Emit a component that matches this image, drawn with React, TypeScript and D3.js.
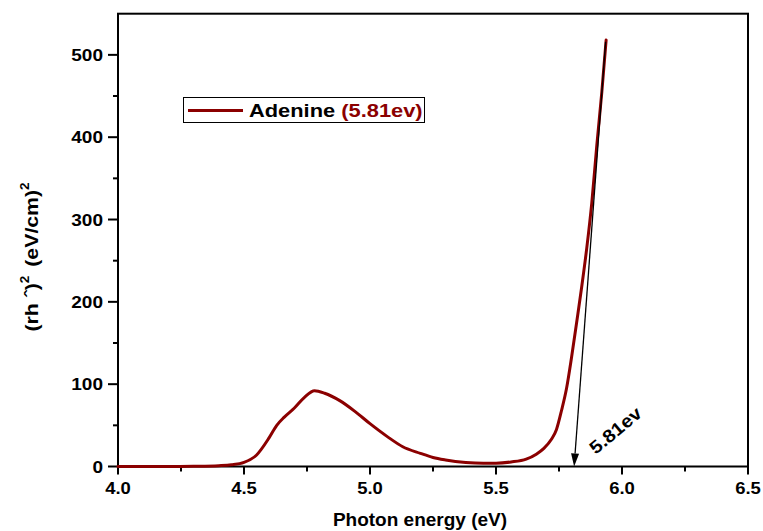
import React from "react";
import * as d3 from "d3";

const energy = [4.0, 4.1, 4.2, 4.3, 4.4, 4.45, 4.5, 4.55, 4.6, 4.63, 4.66, 4.7, 4.74, 4.78, 4.82, 4.88, 4.94, 5.0, 5.07, 5.13, 5.2, 5.25, 5.3, 5.38, 5.45, 5.5, 5.56, 5.62, 5.66, 5.69, 5.72, 5.74, 5.76, 5.78, 5.8, 5.82, 5.84, 5.86, 5.88, 5.9, 5.92, 5.937];
const adenine = [0, 0, 0, 0.3, 1, 2, 5, 14, 35, 50, 60, 71, 84, 92, 89, 80, 67, 52, 36, 24, 16, 11, 8, 5, 4, 4, 5.5, 9, 15, 22, 33, 45, 68, 95, 133, 175, 218, 265, 320, 390, 455, 518];

const xMajorTicks = [4.0, 4.5, 5.0, 5.5, 6.0, 6.5];
const xMinorTicks = [4.25, 4.75, 5.25, 5.75, 6.25];
const yMajorTicks = [0, 100, 200, 300, 400, 500];
const yMinorTicks = [50, 150, 250, 350, 450];

const arrowFrom = [5.935, 516];
const arrowTo = [5.81, 0];
const gapLabel = "5.81ev";
const gapLabelPos = [5.99, 38];

const FONT = "Arial, 'Liberation Sans', sans-serif";
const RED = "#8B0000";
const SX = 1.12;

export default function App() {
  const W = 763, H = 531;
  const x = d3.scaleLinear().domain([4.0, 6.5]).range([118, 748]);
  const y = d3.scaleLinear().domain([0, 550]).range([466.5, 13.7]);
  const pts = energy.map((e, i) => [e, adenine[i]] as [number, number]);
  const line = d3.line<[number, number]>().x(d => x(d[0])).y(d => y(d[1])).curve(d3.curveMonotoneX);

  const ax1 = x(arrowFrom[0]), ay1 = y(arrowFrom[1]);
  const ax2 = x(arrowTo[0]), ay2 = y(arrowTo[1]);
  const ang = Math.atan2(ay2 - ay1, ax2 - ax1);
  const hl = 13, hw = 4;
  const bx = ax2 - hl * Math.cos(ang), by = ay2 - hl * Math.sin(ang);
  const px = -Math.sin(ang) * hw, py = Math.cos(ang) * hw;
  const head = `M${ax2},${ay2}L${bx + px},${by + py}L${bx - px},${by - py}Z`;

  return (
    <svg width={W} height={H} style={{ position: "absolute", left: 0, top: 0, background: "#fff" }} fontFamily={FONT}>
      <rect x={0} y={0} width={W} height={H} fill="#fff" />
      {/* frame */}
      <rect x={x(4.0)} y={y(550)} width={x(6.5) - x(4.0)} height={y(0) - y(550)} fill="none" stroke="#000" strokeWidth={2} />
      {/* x ticks */}
      {xMajorTicks.map(t => (
        <g key={"xm" + t}>
          <line x1={x(t)} x2={x(t)} y1={y(0)} y2={y(0) + 8} stroke="#000" strokeWidth={2} />
          <text transform={`translate(${x(t)},${y(0) + 27.5}) scale(${SX},1)`} textAnchor="middle" fontSize={16.5} fontWeight="bold">{t.toFixed(1)}</text>
        </g>
      ))}
      {xMinorTicks.map(t => (
        <line key={"xn" + t} x1={x(t)} x2={x(t)} y1={y(0)} y2={y(0) + 5} stroke="#000" strokeWidth={2} />
      ))}
      {/* y ticks */}
      {yMajorTicks.map(t => (
        <g key={"ym" + t}>
          <line x1={x(4.0)} x2={x(4.0) - 10} y1={y(t)} y2={y(t)} stroke="#000" strokeWidth={2} />
          <text transform={`translate(${x(4.0) - 15},${y(t) + 6}) scale(${SX},1)`} textAnchor="end" fontSize={17} fontWeight="bold">{t}</text>
        </g>
      ))}
      {yMinorTicks.map(t => (
        <line key={"yn" + t} x1={x(4.0)} x2={x(4.0) - 5} y1={y(t)} y2={y(t)} stroke="#000" strokeWidth={2} />
      ))}
      {/* curve */}
      <path d={line(pts) || ""} fill="none" stroke={RED} strokeWidth={3} strokeLinejoin="round" strokeLinecap="round" />
      {/* arrow */}
      <line x1={ax1} y1={ay1} x2={bx} y2={by} stroke="#000" strokeWidth={1.3} />
      <path d={head} fill="#000" />
      <text transform={`translate(${x(gapLabelPos[0])},${y(gapLabelPos[1])}) rotate(-40) scale(${SX},1)`} textAnchor="middle" fontSize={18} fontWeight="bold">{gapLabel}</text>
      {/* legend */}
      <rect x={183.5} y={97.5} width={241} height={25} fill="#fff" stroke="#000" strokeWidth={1} />
      <line x1={188} x2={243} y1={110.5} y2={110.5} stroke={RED} strokeWidth={3} />
      <text transform={`translate(249,117) scale(1.15,1)`} fontSize={19} fontWeight="bold">
        <tspan fill="#000">Adenine </tspan>
        <tspan fill={RED}>(5.81ev)</tspan>
      </text>
      {/* axis titles */}
      <text x={420} y={526} textAnchor="middle" fontSize={19} fontWeight="bold">Photon energy (eV)</text>
      <text transform="translate(38,257) rotate(-90) scale(1.12,1)" textAnchor="middle" fontSize={19} fontWeight="bold">
        <tspan>(rh ˆ)</tspan>
        <tspan fontSize={12} dy={-9}>2</tspan>
        <tspan dy={9} dx={8}>(eV/cm)</tspan>
        <tspan fontSize={12} dy={-9}>2</tspan>
      </text>
    </svg>
  );
}
